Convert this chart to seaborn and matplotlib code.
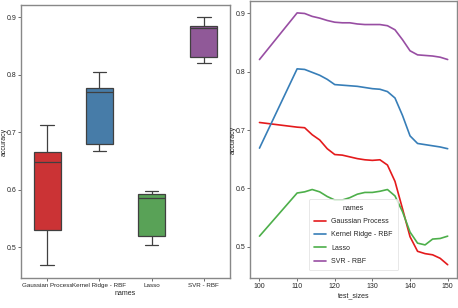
import matplotlib
matplotlib.use("Agg")
import matplotlib.pyplot as plt
import seaborn as sns
import pandas as pd

names = ["Gaussian Process", "Kernel Ridge - RBF", "Lasso", "SVR - RBF"]
test_sizes = [100, 110, 112, 114, 116, 118, 120, 122, 124, 126, 128, 130,
              132, 134, 136, 138, 140, 142, 144, 146, 148, 150]
gaussian = [0.713, 0.705, 0.704, 0.692, 0.683, 0.668, 0.658, 0.657, 0.654, 0.651, 0.649,
            0.648, 0.649, 0.640, 0.612, 0.565, 0.517, 0.492, 0.488, 0.486, 0.480, 0.469]
kernel = [0.669, 0.805, 0.804, 0.799, 0.794, 0.787, 0.778, 0.777, 0.776, 0.775, 0.773,
          0.771, 0.770, 0.766, 0.755, 0.725, 0.690, 0.677, 0.675, 0.673, 0.671, 0.668]
lasso = [0.518, 0.592, 0.594, 0.598, 0.594, 0.586, 0.580, 0.580, 0.584, 0.590, 0.593,
         0.593, 0.595, 0.598, 0.587, 0.560, 0.525, 0.506, 0.503, 0.513, 0.514, 0.518]
svr = [0.821, 0.901, 0.900, 0.895, 0.892, 0.888, 0.885, 0.884, 0.884, 0.882, 0.881,
       0.881, 0.881, 0.879, 0.872, 0.855, 0.836, 0.829, 0.828, 0.827, 0.825, 0.821]

rows = []
for n, vals in zip(names, [gaussian, kernel, lasso, svr]):
    for t, v in zip(test_sizes, vals):
        rows.append({"names": n, "test_sizes": t, "accuracy": v})
df = pd.DataFrame(rows)

sns.set_theme(style="white")
plt.rcParams["font.family"] = ["Liberation Sans", "DejaVu Sans"]
plt.rcParams["axes.edgecolor"] = "#888888"
plt.rcParams["axes.linewidth"] = 1.0

fig = plt.figure(figsize=(4.58, 3.08), dpi=100)
ax1 = fig.add_axes([0.046, 0.097, 0.456, 0.886])
ax2 = fig.add_axes([0.546, 0.097, 0.452, 0.899])

pal = sns.color_palette("Set1", 4)

sns.boxplot(data=df, x="names", y="accuracy", hue="names", palette=pal,
            width=0.52, linewidth=0.9, linecolor="#404040", ax=ax1, legend=False)
sns.lineplot(data=df, x="test_sizes", y="accuracy", hue="names", palette=pal,
             linewidth=1.2, ax=ax2)

fs = 5
for ax in (ax1, ax2):
    ax.tick_params(axis="both", labelsize=fs, length=2, width=0.6, pad=1.2,
                   color="#555555", left=True, bottom=True)
    ax.xaxis.label.set_size(fs)
    ax.yaxis.label.set_size(fs)
    ax.xaxis.labelpad = 2
    ax.set_yticks([0.5, 0.6, 0.7, 0.8, 0.9])
    ax.set_ylim(0.446, 0.921)

ax1.tick_params(axis="x", labelsize=4.5)
ax1.yaxis.set_label_coords(-0.066, 0.5)
ax2.yaxis.set_label_coords(-0.066, 0.5)

ax2.set_xlim(97.5, 152.5)
ax2.set_xticks([100, 110, 120, 130, 140, 150])

leg = ax2.legend(title="names", loc="lower center", bbox_to_anchor=(0.5, 0.015),
                 fontsize=fs, title_fontsize=fs, frameon=True, handlelength=1.6,
                 labelspacing=0.9, borderpad=0.8)
leg.get_frame().set_edgecolor("#dddddd")
leg.get_frame().set_linewidth(0.6)

fig.savefig("out.png", dpi=100)
